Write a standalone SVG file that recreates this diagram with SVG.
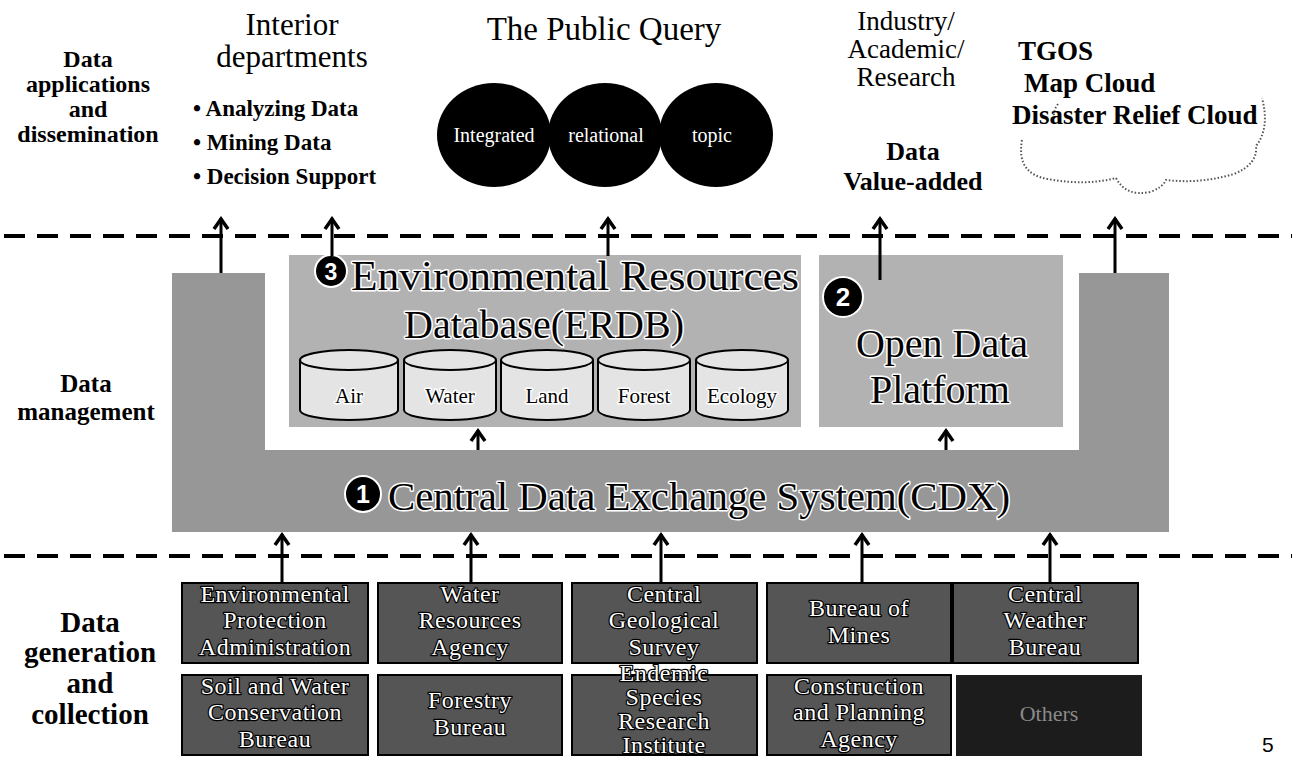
<svg xmlns="http://www.w3.org/2000/svg" width="1295" height="759" viewBox="0 0 1295 759">
<style>
text{font-family:"Liberation Serif","Times New Roman","DejaVu Serif",serif;}
.lbl{font-weight:bold;font-size:24px;fill:#000;text-anchor:middle;}
.big{font-size:31px;fill:#000;text-anchor:middle;}
.bul{font-weight:bold;font-size:23px;fill:#000;}
.halo{fill:#000;stroke:#fff;stroke-width:3;paint-order:stroke;stroke-linejoin:round;}
.btxt{font-size:24px;fill:#fff;stroke:#000;stroke-width:2.5;paint-order:stroke;stroke-linejoin:round;text-anchor:middle;letter-spacing:0.5px;}
.ctxt{font-size:20px;fill:#fff;text-anchor:middle;}
.box{fill:#555;stroke:#000;stroke-width:2;}
.cyl{fill:#e4e4e4;stroke:#000;stroke-width:2;}
.cylt{fill:none;stroke:#000;stroke-width:2;}
.disc{fill:#000;stroke:#fff;stroke-width:2;}
text.num{font-family:"Liberation Sans",Arial,sans-serif;font-weight:bold;fill:#fff;text-anchor:middle;}
.dash{stroke:#000;stroke-width:4;stroke-dasharray:21 12;fill:none;}
.arr{stroke:#000;stroke-width:3;fill:none;marker-end:url(#ah);}
.cloud{fill:none;stroke:#555;stroke-width:2;stroke-dasharray:1.5 2;}
</style>
<defs>
<marker id="ah" markerUnits="userSpaceOnUse" viewBox="-14 -10 16 20" markerWidth="16" markerHeight="20" refX="0" refY="0" orient="auto">
<path d="M-11,-7 L-1,0 L-11,7" fill="none" stroke="#000" stroke-width="3.5" stroke-linejoin="miter"/>
</marker>
</defs>
<rect width="1295" height="759" fill="#fff"/>

<g id="label-apps">
<text class="lbl" x="88" y="67">Data</text>
<text class="lbl" x="88" y="92">applications</text>
<text class="lbl" x="88" y="117">and</text>
<text class="lbl" x="88" y="142">dissemination</text>
</g>
<g id="label-mgmt">
<text class="lbl" x="86" y="392" style="font-size:25px">Data</text>
<text class="lbl" x="86" y="420" style="font-size:25px">management</text>
</g>
<g id="label-gen">
<text class="lbl" x="90" y="632" style="font-size:29px">Data</text>
<text class="lbl" x="90" y="662" style="font-size:29px">generation</text>
<text class="lbl" x="90" y="693" style="font-size:29px">and</text>
<text class="lbl" x="90" y="724" style="font-size:29px">collection</text>
</g>

<g id="interior">
<text class="big" x="292" y="35">Interior</text>
<text class="big" x="292" y="67">departments</text>
<text class="bul" x="193" y="116">• Analyzing Data</text>
<text class="bul" x="193" y="150">• Mining Data</text>
<text class="bul" x="193" y="184">• Decision Support</text>
</g>
<g id="public-query">
<text class="big" x="604" y="40" style="font-size:33px">The Public Query</text>
<ellipse cx="494" cy="135" rx="57" ry="52" fill="#000"/>
<ellipse cx="605" cy="135" rx="57" ry="52" fill="#000"/>
<ellipse cx="716" cy="135" rx="57" ry="52" fill="#000"/>
<text class="ctxt" x="494" y="142">Integrated</text>
<text class="ctxt" x="606" y="142">relational</text>
<text class="ctxt" x="712" y="142">topic</text>
</g>
<g id="industry">
<text class="big" x="906" y="30" style="font-size:27px">Industry/</text>
<text class="big" x="906" y="58" style="font-size:27px">Academic/</text>
<text class="big" x="906" y="86" style="font-size:27px">Research</text>
<text class="lbl" x="913" y="160" style="font-size:26px">Data</text>
<text class="lbl" x="913" y="190" style="font-size:26px">Value-added</text>
</g>
<g id="tgos">
<path class="cloud" d="M1022,140 Q1016,174 1048,179 Q1085,186 1116,178 Q1126,197 1150,192 Q1162,188 1166,180 Q1200,184 1234,174 Q1258,164 1256,146 Q1270,128 1262,98"/>
<path class="cloud" d="M1058,104 Q1052,112 1055,120"/>
<text class="bul" x="1018" y="60" style="font-size:27px">TGOS</text>
<text class="bul" x="1024" y="92" style="font-size:27px">Map Cloud</text>
<text class="bul" x="1012" y="124" style="font-size:27px">Disaster Relief Cloud</text>
</g>

<g id="separators">
<line class="dash" x1="4" y1="236" x2="1292" y2="236"/>
<line class="dash" x1="4" y1="556" x2="1292" y2="556"/>
</g>

<g id="cdx">
<path d="M172,273 H265 V450 H1079 V273 H1169 V532 H172 Z" fill="#979797"/>
<circle class="disc" cx="363" cy="494" r="18"/>
<text class="num" x="363" y="503" font-size="25">1</text>
<text class="halo" x="388" y="510" font-size="41" textLength="622" lengthAdjust="spacingAndGlyphs">Central Data Exchange System(CDX)</text>
</g>

<g id="erdb">
<rect x="289" y="255" width="512" height="172" fill="#b2b2b2"/>
<circle class="disc" cx="331" cy="271" r="16"/>
<text class="num" x="331" y="280" font-size="23">3</text>
<text class="halo" x="351" y="290" font-size="42" textLength="448" lengthAdjust="spacingAndGlyphs">Environmental Resources</text>
<text class="halo" x="544" y="338" font-size="40" text-anchor="middle">Database(ERDB)</text>
</g>
<g id="db-air">
<path class="cyl" d="M300,360 A49,10 0 0 1 398,360 V410 A49,10 0 0 1 300,410 Z"/>
<path class="cylt" d="M300,360 A49,10 0 0 0 398,360"/>
<text class="halo" x="349" y="403" font-size="21" text-anchor="middle">Air</text>
</g>
<g id="db-water">
<path class="cyl" d="M404,360 A46,10 0 0 1 496,360 V410 A46,10 0 0 1 404,410 Z"/>
<path class="cylt" d="M404,360 A46,10 0 0 0 496,360"/>
<text class="halo" x="450" y="403" font-size="21" text-anchor="middle">Water</text>
</g>
<g id="db-land">
<path class="cyl" d="M501,360 A46,10 0 0 1 593,360 V410 A46,10 0 0 1 501,410 Z"/>
<path class="cylt" d="M501,360 A46,10 0 0 0 593,360"/>
<text class="halo" x="547" y="403" font-size="21" text-anchor="middle">Land</text>
</g>
<g id="db-forest">
<path class="cyl" d="M598,360 A46,10 0 0 1 690,360 V410 A46,10 0 0 1 598,410 Z"/>
<path class="cylt" d="M598,360 A46,10 0 0 0 690,360"/>
<text class="halo" x="644" y="403" font-size="21" text-anchor="middle">Forest</text>
</g>
<g id="db-ecology">
<path class="cyl" d="M696,360 A46,10 0 0 1 788,360 V410 A46,10 0 0 1 696,410 Z"/>
<path class="cylt" d="M696,360 A46,10 0 0 0 788,360"/>
<text class="halo" x="742" y="403" font-size="21" text-anchor="middle">Ecology</text>
</g>

<g id="open-data">
<rect x="819" y="255" width="244" height="172" fill="#b2b2b2"/>
<circle class="disc" cx="843" cy="297" r="20"/>
<text class="num" x="843" y="306" font-size="26">2</text>
<text class="halo" x="942" y="357" font-size="40" text-anchor="middle">Open Data</text>
<text class="halo" x="940" y="403" font-size="40" text-anchor="middle">Platform</text>
</g>

<g id="src-epa"><rect class="box" x="182" y="583" width="186" height="80"/>
<text class="btxt" x="275" y="602">Environmental</text><text class="btxt" x="275" y="628">Protection</text><text class="btxt" x="275" y="655">Administration</text></g>
<g id="src-wra"><rect class="box" x="378" y="583" width="184" height="80"/>
<text class="btxt" x="470" y="602">Water</text><text class="btxt" x="470" y="628">Resources</text><text class="btxt" x="470" y="655">Agency</text></g>
<g id="src-cgs"><rect class="box" x="572" y="583" width="185" height="80"/>
<text class="btxt" x="664" y="602">Central</text><text class="btxt" x="664" y="628">Geological</text><text class="btxt" x="664" y="655">Survey</text></g>
<g id="src-mines"><rect class="box" x="767" y="583" width="184" height="80"/>
<text class="btxt" x="859" y="616">Bureau of</text><text class="btxt" x="859" y="643">Mines</text></g>
<g id="src-cwb"><rect class="box" x="953" y="583" width="185" height="80"/>
<text class="btxt" x="1045" y="602">Central</text><text class="btxt" x="1045" y="628">Weather</text><text class="btxt" x="1045" y="655">Bureau</text></g>
<g id="src-swcb"><rect class="box" x="182" y="675" width="186" height="80"/>
<text class="btxt" x="275" y="694">Soil and Water</text><text class="btxt" x="275" y="720">Conservation</text><text class="btxt" x="275" y="747">Bureau</text></g>
<g id="src-forestry"><rect class="box" x="378" y="675" width="184" height="80"/>
<text class="btxt" x="470" y="708">Forestry</text><text class="btxt" x="470" y="735">Bureau</text></g>
<g id="src-endemic"><rect class="box" x="572" y="675" width="185" height="80"/>
<text class="btxt" x="664" y="681">Endemic</text><text class="btxt" x="664" y="705">Species</text><text class="btxt" x="664" y="729">Research</text><text class="btxt" x="664" y="753">Institute</text></g>
<g id="src-cpa"><rect class="box" x="767" y="675" width="184" height="80"/>
<text class="btxt" x="859" y="694">Construction</text><text class="btxt" x="859" y="720">and Planning</text><text class="btxt" x="859" y="747">Agency</text></g>
<g id="src-others"><rect x="956" y="675" width="186" height="81" fill="#1c1c1c"/>
<text x="1049" y="721" font-size="22" fill="#8a8a8a" text-anchor="middle">Others</text></g>

<g id="connectors">
<line class="arr" x1="221" y1="273" x2="221" y2="218"/>
<line class="arr" x1="332" y1="256" x2="332" y2="218"/>
<line class="arr" x1="608" y1="256" x2="608" y2="218"/>
<line class="arr" x1="880" y1="280" x2="880" y2="218"/>
<line class="arr" x1="1115" y1="273" x2="1115" y2="218"/>
<line class="arr" x1="478" y1="450" x2="478" y2="430"/>
<line class="arr" x1="946" y1="450" x2="946" y2="430"/>
<line class="arr" x1="282" y1="583" x2="282" y2="534"/>
<line class="arr" x1="471" y1="583" x2="471" y2="534"/>
<line class="arr" x1="661" y1="583" x2="661" y2="534"/>
<line class="arr" x1="862" y1="583" x2="862" y2="534"/>
<line class="arr" x1="1050" y1="583" x2="1050" y2="534"/>
</g>

<text x="1262" y="752" style="font-family:'Liberation Sans',Arial,sans-serif;font-size:21px" fill="#000">5</text>
</svg>
